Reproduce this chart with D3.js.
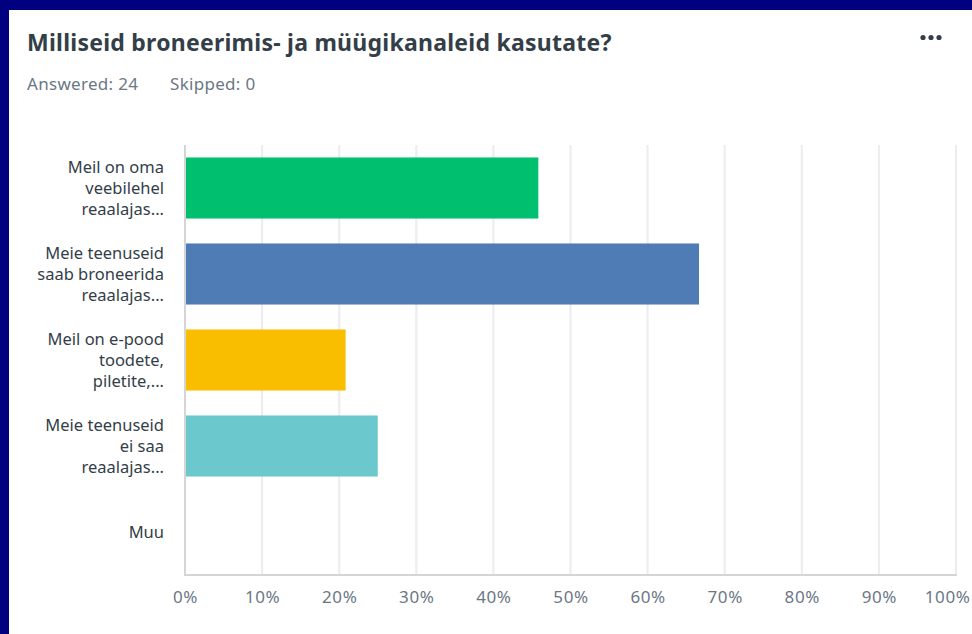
<!DOCTYPE html>
<html>
<head>
<meta charset="utf-8">
<script src="https://cdnjs.cloudflare.com/ajax/libs/d3/7.8.5/d3.min.js"></script>
<style>
    html, body { margin: 0; padding: 0; background: #000080; }
    svg { display: block; }
    text { font-family: "Noto Sans", "Open Sans", sans-serif; }
</style>
</head>
<body>
<svg id="chart" width="972" height="634"></svg>
<script>
    // data
    var categories = ['Meil on oma veebilehel reaalajas...', 'Meie teenuseid saab broneerida reaalajas...',
        'Meil on e-pood toodete, piletite,...', 'Meie teenuseid ei saa reaalajas...', 'Muu'];
    var labelLines = [
        ['Meil on oma', 'veebilehel', 'reaalajas...'],
        ['Meie teenuseid', 'saab broneerida', 'reaalajas...'],
        ['Meil on e-pood', 'toodete,', 'piletite,...'],
        ['Meie teenuseid', 'ei saa', 'reaalajas...'],
        ['Muu']
    ];
    var values = [0.4583, 0.6667, 0.2083, 0.25, 0];
    var colors = ['#00bf6f', '#507cb6', '#f9be00', '#6bc8cd', '#ff8b4f'];
    var ticks = [0, 0.1, 0.2, 0.3, 0.4, 0.5, 0.6, 0.7, 0.8, 0.9, 1];

    var svg = d3.select('#chart');

    // white panel
    svg.append('rect')
        .attr('x', 9).attr('y', 10)
        .attr('width', 972 - 9).attr('height', 634 - 10)
        .attr('fill', '#fff');

    svg.append('text')
        .attr('x', 27).attr('y', 51)
        .attr('fill', '#333e48')
        .style('font-size', '23px')
        .style('letter-spacing', '0.25px')
        .style('font-weight', 'bold')
        .text('Milliseid broneerimis- ja müügikanaleid kasutate?');

    svg.append('text')
        .attr('x', 27).attr('y', 90)
        .attr('fill', '#6b7785')
        .style('font-size', '17px')
        .style('letter-spacing', '0.3px')
        .text('Answered: 24');
    svg.append('text')
        .attr('x', 170).attr('y', 90)
        .attr('fill', '#6b7785')
        .style('font-size', '17px')
        .style('letter-spacing', '0.3px')
        .text('Skipped: 0');

    // more menu dots
    [923, 931, 939].forEach(function(cx) {
        svg.append('circle').attr('cx', cx).attr('cy', 37.5).attr('r', 2.6).attr('fill', '#333e48');
    });

    var x = d3.scaleLinear().domain([0, 1]).range([185, 956]);
    var y = d3.scaleBand().domain(categories).range([145, 575]).paddingInner(0.29).paddingOuter(0.145);

    // gridlines
    svg.append('g')
        .selectAll('line')
        .data(ticks.slice(1))
        .join('line')
        .attr('x1', function(d) { return x(d); })
        .attr('x2', function(d) { return x(d); })
        .attr('y1', 145).attr('y2', 575)
        .attr('stroke', '#ececec')
        .attr('stroke-width', 2);

    // bars
    svg.append('g')
        .selectAll('rect')
        .data(values)
        .join('rect')
        .attr('x', x(0))
        .attr('y', function(d, i) { return y(categories[i]); })
        .attr('width', function(d) { return x(d) - x(0); })
        .attr('height', y.bandwidth())
        .attr('fill', function(d, i) { return colors[i]; });

    // axis lines
    svg.append('line')
        .attr('x1', x(0)).attr('x2', x(0))
        .attr('y1', 145).attr('y2', 575)
        .attr('stroke', '#d5d5d5').attr('stroke-width', 2);
    svg.append('line')
        .attr('x1', x(0) - 1).attr('x2', x(1) + 1)
        .attr('y1', 575).attr('y2', 575)
        .attr('stroke', '#d5d5d5').attr('stroke-width', 2);

    // x axis labels
    var xAxis = d3.axisBottom(x)
        .tickValues(ticks)
        .tickSize(0)
        .tickPadding(0)
        .tickFormat(d3.format('.0%'));
    var gx = svg.append('g')
        .attr('transform', 'translate(0,' + 591 + ')')
        .call(xAxis);
    gx.select('.domain').remove();
    gx.selectAll('text')
        .attr('fill', '#6b7785')
        .style('font-size', '17px')
        .style('letter-spacing', '0.6px')
        .style('font-family', '"Noto Sans", "Open Sans", sans-serif');
    // last label is pulled in so it stays inside the panel
    gx.selectAll('.tick').filter(function(d) { return d === 1; })
        .select('text')
        .attr('text-anchor', 'end')
        .attr('x', 970 - x(1));

    // category labels
    var lab = svg.append('g')
        .selectAll('text')
        .data(labelLines)
        .join('text')
        .attr('text-anchor', 'end')
        .attr('fill', '#333e48')
        .style('font-size', '16.5px')
        .attr('x', 164)
        .attr('y', function(d, i) {
            var c = y(categories[i]) + y.bandwidth() / 2;
            return c - (d.length - 1) * 21 / 2 + 6;
        });
    lab.selectAll('tspan')
        .data(function(d) { return d; })
        .join('tspan')
        .attr('x', 164)
        .attr('dy', function(d, i) { return i === 0 ? 0 : 21; })
        .text(function(d) { return d; });
</script>
</body>
</html>
